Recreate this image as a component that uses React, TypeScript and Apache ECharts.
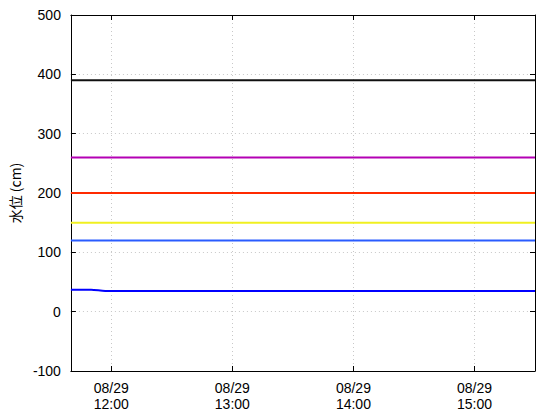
import React, { useEffect, useRef } from "react";
import * as echarts from "echarts";

const day = "2024-08-29";
const xMinTime = "11:40";
const xMaxTime = "15:30";
const tickTimes = ["12:00", "13:00", "14:00", "15:00"];

const levelValues = [390, 260, 200, 150, 120];
const levelColors = ["#101010", "#b400b4", "#ff2a00", "#f0f020", "#2a5cff"];

const waterTimes = ["11:40", "11:50", "11:57", "12:10", "12:30", "13:00", "13:30", "14:00", "14:30", "15:00", "15:30"];
const waterValues = [37, 37, 35, 35, 35, 35, 35, 35, 35, 35, 35];

const ts = (t: string) => new Date(`${day}T${t}:00`).getTime();
const pad = (n: number) => (n < 10 ? "0" + n : "" + n);

export default function App() {
  const ref = useRef<HTMLDivElement>(null);
  useEffect(() => {
    if (!ref.current) return;
    const chart = echarts.init(ref.current, null, { renderer: "svg" });
    const xMin = ts(xMinTime);
    const xMax = ts(xMaxTime);
    const ticks = tickTimes.map(ts);
    const cjk = "'Noto Sans CJK JP', sans-serif";
    const font = "'Liberation Sans', Arial, sans-serif";
    const gridLine = { show: true, lineStyle: { color: "#c8c8c8", type: [1, 3] as any, width: 1 } };
    const axisLine = { show: true, onZero: false, lineStyle: { color: "#000", width: 1 } };
    const tick = { show: true, inside: true, length: 5, lineStyle: { color: "#000" } };
    const labelStyle = { color: "#000", fontFamily: font, fontSize: 14, lineHeight: 15 };
    const series: any[] = levelValues.map((v, i) => ({
      type: "line",
      data: [[xMin, v], [xMax, v]],
      symbol: "none",
      lineStyle: { color: levelColors[i], width: 2 },
      silent: true,
    }));
    series.push({
      type: "line",
      data: waterTimes.map((t, i) => [ts(t), waterValues[i]]),
      symbol: "none",
      smooth: 0.3,
      lineStyle: { color: "#0000ff", width: 2 },
    });
    chart.setOption({
      animation: false,
      grid: { left: 68, right: 25, top: 15, bottom: 49 },
      xAxis: [
        {
          type: "value",
          min: xMin,
          max: xMax,
          axisLine,
          axisTick: { ...tick, customValues: ticks },
          axisLabel: {
            ...labelStyle,
            customValues: ticks,
            margin: 9,
            formatter: (v: number) => {
              const d = new Date(v);
              return `${pad(d.getMonth() + 1)}/${pad(d.getDate())}`;
            },
          },
          splitLine: gridLine,
        },
        {
          type: "value",
          position: "bottom",
          offset: 16,
          min: xMin,
          max: xMax,
          axisLine: { show: false },
          axisTick: { show: false, customValues: ticks },
          axisLabel: {
            ...labelStyle,
            customValues: ticks,
            margin: 9,
            formatter: (v: number) => {
              const d = new Date(v);
              return `${pad(d.getHours())}:${pad(d.getMinutes())}`;
            },
          },
          splitLine: { show: false },
        },
        {
          type: "value",
          position: "top",
          min: xMin,
          max: xMax,
          axisLine,
          axisTick: { ...tick, customValues: ticks },
          axisLabel: { show: false, customValues: ticks },
          splitLine: { show: false },
        },
      ],
      yAxis: [
        {
          type: "value",
          min: -100,
          max: 500,
          interval: 100,
          name: "水位 (cm)",
          nameLocation: "middle",
          nameGap: 44,
          nameTextStyle: { color: "#000", fontFamily: cjk, fontSize: 14 },
          axisLine,
          axisTick: tick,
          axisLabel: { color: "#000", fontFamily: font, fontSize: 14, margin: 10 },
          splitLine: gridLine,
        },
        {
          type: "value",
          position: "right",
          min: -100,
          max: 500,
          interval: 100,
          axisLine,
          axisTick: tick,
          axisLabel: { show: false },
          splitLine: { show: false },
        },
      ],
      series,
    });
    return () => chart.dispose();
  }, []);
  return <div ref={ref} style={{ width: 560, height: 420, position: "absolute", left: 0, top: 0 }} />;
}
